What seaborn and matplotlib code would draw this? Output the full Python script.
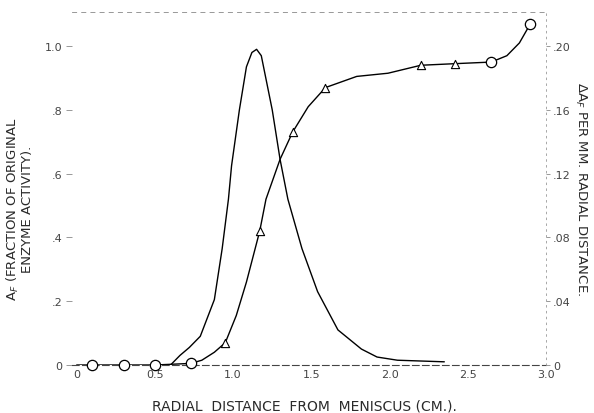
import matplotlib
matplotlib.use("Agg")
import matplotlib.pyplot as plt
import seaborn as sns
import pandas as pd

# A_F (left axis) - fraction of original enzyme activity
af_x = [0.0, 0.1, 0.3, 0.5, 0.73, 0.80, 0.88, 0.95, 1.02, 1.085, 1.17, 1.21, 1.30, 1.38,
        1.48, 1.59, 1.79, 1.99, 2.20, 2.42, 2.65, 2.75, 2.83, 2.90]
af_y = [0.0, 0.0, 0.0, 0.0, 0.005, 0.015, 0.04, 0.07, 0.155, 0.26, 0.42, 0.52, 0.645, 0.73,
        0.81, 0.87, 0.905, 0.915, 0.94, 0.945, 0.95, 0.97, 1.01, 1.07]

# measured points (markers)
circ_x = [0.1, 0.3, 0.5, 0.73, 2.65, 2.90]
circ_y = [0.0, 0.0, 0.0, 0.005, 0.95, 1.07]
tri_x = [0.95, 1.17, 1.38, 1.59, 2.20, 2.42]
tri_y = [0.07, 0.42, 0.73, 0.87, 0.94, 0.945]

# Delta A_F per mm radial distance (right axis)
d_x = [0.60, 0.66, 0.72, 0.79, 0.88, 0.93, 0.97, 0.99, 1.04, 1.085, 1.12, 1.15, 1.18, 1.25,
       1.30, 1.35, 1.44, 1.54, 1.67, 1.82, 1.92, 2.05, 2.35]
d_y = [0.0, 0.006, 0.011, 0.018, 0.041, 0.073, 0.104, 0.125, 0.160, 0.187, 0.196, 0.198, 0.194, 0.160,
       0.129, 0.104, 0.073, 0.046, 0.022, 0.010, 0.005, 0.003, 0.002]

x_ticks = [0, 0.5, 1.0, 1.5, 2.0, 2.5, 3.0]
x_labels = ["0", "0.5", "1.0", "1.5", "2.0", "2.5", "3.0"]
l_ticks = [0, 0.2, 0.4, 0.6, 0.8, 1.0]
l_labels = ["0", ".2", ".4", ".6", ".8", "1.0"]
r_ticks = [0, 0.04, 0.08, 0.12, 0.16, 0.20]
r_labels = ["0", ".04", ".08", ".12", ".16", ".20"]

sns.set_style("white")
plt.rcParams['font.family'] = ['DejaVu Sans']
txt = "#2a2a2a"
tick_txt = "#444444"

fig = plt.figure(figsize=(5.94, 4.14), dpi=100)
ax = fig.add_axes([72/594, 1-366/414, 474/594, 353/414])
ax2 = ax.twinx()

df_af = pd.DataFrame({"x": af_x, "y": af_y})
df_d = pd.DataFrame({"x": d_x, "y": d_y})

sns.lineplot(data=df_af, x="x", y="y", ax=ax, color="black", lw=1.0, sort=False, estimator=None)
sns.scatterplot(x=circ_x, y=circ_y, ax=ax, marker="o", s=55, facecolor="white",
                edgecolor="black", linewidth=0.9, zorder=5, clip_on=False)
sns.scatterplot(x=tri_x, y=tri_y, ax=ax, marker="^", s=35, facecolor="white",
                edgecolor="black", linewidth=0.8, zorder=5, clip_on=False)
sns.lineplot(data=df_d, x="x", y="y", ax=ax2, color="black", lw=1.0, sort=False, estimator=None)

ax.set_xlim(-0.03, 3.0)
ax.set_ylim(0, 1.107)
ax2.set_ylim(0, 0.2214)

ax.set_xticks(x_ticks)
ax.set_xticklabels(x_labels)
ax.set_yticks(l_ticks)
ax.set_yticklabels(l_labels)
ax2.set_yticks(r_ticks)
ax2.set_yticklabels(r_labels)

for a in (ax, ax2):
    for s in a.spines.values():
        s.set_visible(False)

ax.spines["bottom"].set_visible(True)
ax.spines["bottom"].set_linestyle((0, (6, 3)))
ax.spines["bottom"].set_color("#444444")
ax.spines["bottom"].set_linewidth(0.8)
ax.spines["top"].set_visible(True)
ax.spines["top"].set_linestyle((0, (5, 6)))
ax.spines["top"].set_color("#888888")
ax.spines["top"].set_linewidth(0.6)
ax2.spines["right"].set_visible(True)
ax2.spines["right"].set_linestyle((0, (2, 5)))
ax2.spines["right"].set_color("#999999")
ax2.spines["right"].set_linewidth(0.6)

ax.tick_params(axis="x", length=3, width=0.6, color="#777777", pad=3,
               labelsize=8, labelcolor=tick_txt, direction="in")
ax.tick_params(axis="y", length=4, width=0.6, color="#888888", pad=3,
               labelsize=8, labelcolor=tick_txt, direction="out")
ax2.tick_params(axis="y", length=3, width=0.6, color="#888888", pad=2,
                labelsize=8, labelcolor=tick_txt, direction="out")

ax.set_xlabel("RADIAL  DISTANCE  FROM  MENISCUS (CM.).", fontsize=10, color=txt)
ax.xaxis.set_label_coords(0.49, -0.095)
ax.set_ylabel("A$_F$ (FRACTION OF ORIGINAL\nENZYME ACTIVITY).", fontsize=9.5, color=txt,
              linespacing=1.05)
ax.yaxis.set_label_coords(-0.08, 0.445)
ax2.set_ylabel("ΔA$_F$ PER MM. RADIAL DISTANCE.", fontsize=9.5, color=txt, rotation=270)
ax2.yaxis.set_label_coords(1.089, 0.50)

fig.savefig("out.png", dpi=100)
